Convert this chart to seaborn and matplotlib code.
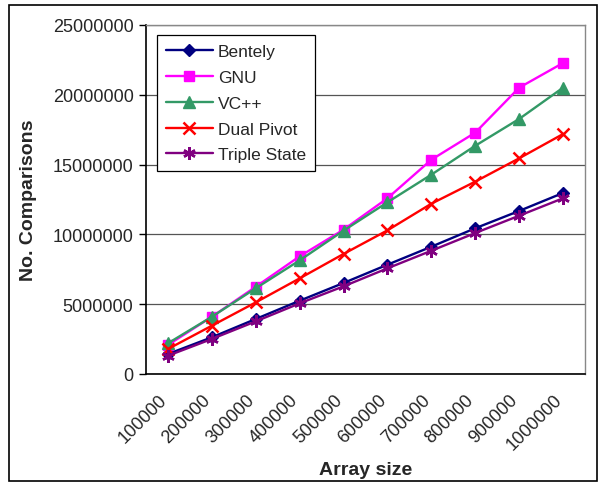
import numpy as np
import pandas as pd
import matplotlib
matplotlib.use("Agg")
import matplotlib.pyplot as plt
from matplotlib.patches import Rectangle
from matplotlib.transforms import ScaledTranslation
import seaborn as sns

# values
sizes = ["100000", "200000", "300000", "400000", "500000",
         "600000", "700000", "800000", "900000", "1000000"]
bentely = [1.43e6, 2.63e6, 3.94e6, 5.25e6, 6.52e6, 7.83e6, 9.12e6, 10.44e6, 11.68e6, 12.97e6]
gnu = [2.08e6, 4.10e6, 6.25e6, 8.43e6, 10.34e6, 12.59e6, 15.35e6, 17.29e6, 20.51e6, 22.28e6]
vcpp = [2.20e6, 4.10e6, 6.14e6, 8.14e6, 10.27e6, 12.30e6, 14.28e6, 16.35e6, 18.27e6, 20.51e6]
dual_pivot = [1.79e6, 3.46e6, 5.13e6, 6.85e6, 8.60e6, 10.29e6, 12.20e6, 13.78e6, 15.45e6, 17.19e6]
triple_state = [1.31e6, 2.51e6, 3.77e6, 5.06e6, 6.28e6, 7.57e6, 8.83e6, 10.10e6, 11.34e6, 12.59e6]

series = [
    ("Bentely", bentely, "#000080", "D", 6),
    ("GNU", gnu, "#FF00FF", "s", 7.5),
    ("VC++", vcpp, "#339966", "^", 8),
    ("Dual Pivot", dual_pivot, "#FF0000", "x", 8),
    ("Triple State", triple_state, "#800080", (6, 2, 0), 9),
]

sns.set_style("white")
plt.rcParams["font.family"] = ["Liberation Sans", "DejaVu Sans"]

fig = plt.figure(figsize=(6.05, 4.89), dpi=100)
ax = fig.add_axes([146 / 605, 1 - 375 / 489, (585 - 146) / 605, (375 - 26) / 489])

pos = np.arange(len(sizes))
for name, vals, color, marker, ms in series:
    df = pd.DataFrame({"pos": pos, "value": vals})
    sns.lineplot(data=df, x="pos", y="value", ax=ax, color=color, marker=marker,
                 markersize=ms, markeredgecolor=color, markerfacecolor=color,
                 markeredgewidth=1.8 if marker in ("x", (6, 2, 0)) else 1,
                 linewidth=1.7, label=name)

ax.set_xlim(-0.5, len(sizes) - 0.5)
ax.set_ylim(0, 25000000)
ax.set_yticks(np.arange(0, 25000001, 5000000))
ax.set_yticklabels([str(v) for v in range(0, 25000001, 5000000)], fontsize=13)
ax.set_xticks(pos)
ax.set_xticklabels(sizes, rotation=45, ha="right", rotation_mode="anchor", fontsize=13)
ax.set_xticks(np.arange(-0.5, len(sizes)), minor=True)
ax.tick_params(axis="x", which="major", length=0, pad=12)
ax.tick_params(axis="x", which="minor", length=5, width=1, color="black", direction="out")
ax.tick_params(axis="y", length=5, width=1, color="black", direction="out", left=True, pad=4)

# Excel places the rotated labels a little left of the category centre
shift = ScaledTranslation(-10 / 100, 0, fig.dpi_scale_trans)
for lbl in ax.get_xticklabels():
    lbl.set_transform(lbl.get_transform() + shift)

ax.grid(axis="y", color="#555555", linewidth=0.9)
ax.set_axisbelow(True)
for side in ("left", "bottom"):
    ax.spines[side].set_color("black")
    ax.spines[side].set_linewidth(1.2)
for side in ("top", "right"):
    ax.spines[side].set_color("#888888")
    ax.spines[side].set_linewidth(1.0)

ax.set_xlabel("Array size", fontsize=14, fontweight="bold", labelpad=6)
ax.set_ylabel("No. Comparisons", fontsize=14, fontweight="bold", labelpad=11)

leg = ax.legend(loc="upper left", bbox_to_anchor=(11 / 439, 1 - 10 / 349), fontsize=12.5,
                frameon=True, fancybox=False, edgecolor="black", framealpha=1,
                borderaxespad=0, handlelength=2.7, borderpad=0.5,
                labelspacing=0.62, handletextpad=0.3)
leg.get_frame().set_linewidth(0.9)

# outer frame around the whole chart
fig.patches.append(Rectangle((9 / 605, 1 - 482 / 489), 588 / 605, 476 / 489,
                             transform=fig.transFigure, fill=False,
                             edgecolor="black", linewidth=1.2))

fig.savefig("out.png", dpi=100)
